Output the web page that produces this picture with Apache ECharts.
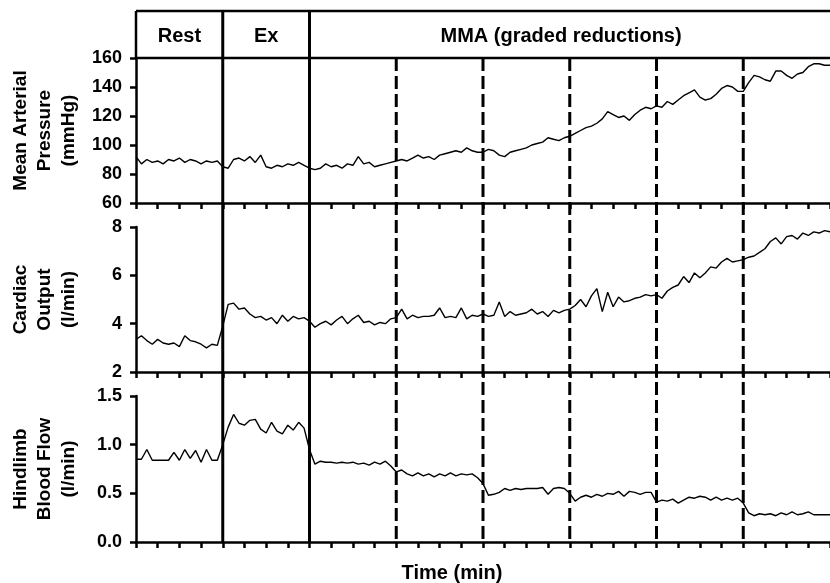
<!DOCTYPE html>
<html>
<head>
<meta charset="utf-8">
<script src="https://cdn.jsdelivr.net/npm/echarts@6/dist/echarts.min.js"></script>
<style>
  html, body { margin: 0; padding: 0; background: #fff; }
  #chart { width: 830px; height: 583px; }
</style>
</head>
<body>
<div id="chart"></div>
<script>
// samples are 0.25 min apart, 16 per 4-min period
var STEP = 0.25;

var pressure = [
  92, 87, 90, 88, 89, 87, 90, 89, 91, 88, 90, 89, 87, 89, 88, 89,
  85, 84, 90, 91, 89, 92, 88, 93, 85, 84, 86, 85, 87, 86, 88, 86,
  84, 83, 84, 87, 85, 86, 84, 87, 86, 92, 87, 88, 85, 86, 87, 88,
  89, 90, 89, 91, 93, 91, 92, 90, 93, 94, 95, 96, 95, 98, 96, 95,
  95, 97, 96, 93, 92, 95, 96, 97, 98, 100, 101, 102, 105, 104, 103, 105,
  106, 108, 110, 112, 113, 115, 118, 123, 121, 119, 120, 117, 121, 124, 126, 125,
  127, 126, 130, 128, 131, 134, 136, 138, 133, 131, 132, 135, 139, 141, 140, 137,
  137, 143, 148, 147, 145, 144, 151, 151, 148, 146, 149, 150, 154, 156, 156, 155,
  155
];

var cardiacOutput = [
  3.35, 3.5, 3.3, 3.15, 3.35, 3.2, 3.15, 3.2, 3.05, 3.5, 3.3, 3.25, 3.15, 3.0, 3.15, 3.1,
  3.9, 4.8, 4.85, 4.6, 4.65, 4.4, 4.25, 4.3, 4.15, 4.25, 4.0, 4.35, 4.1, 4.3, 4.2, 4.25,
  4.1, 3.85, 4.0, 4.1, 3.95, 4.15, 4.3, 4.0, 4.2, 4.35, 4.05, 4.1, 3.95, 4.05, 4.0, 4.2,
  4.25, 4.6, 4.2, 4.35, 4.25, 4.3, 4.3, 4.35, 4.65, 4.25, 4.3, 4.25, 4.65, 4.2, 4.35, 4.3,
  4.4, 4.3, 4.35, 4.9, 4.3, 4.5, 4.35, 4.4, 4.45, 4.6, 4.4, 4.5, 4.3, 4.55, 4.45, 4.55,
  4.6, 4.75, 5.0, 4.7, 5.15, 5.45, 4.5, 5.3, 4.7, 5.1, 4.9, 4.95, 5.05, 5.1, 5.2, 5.15,
  5.2, 5.05, 5.35, 5.5, 5.6, 5.95, 5.7, 6.1, 5.9, 6.1, 6.35, 6.3, 6.55, 6.7, 6.55, 6.6,
  6.65, 6.75, 6.8, 6.95, 7.1, 7.4, 7.55, 7.3, 7.6, 7.65, 7.5, 7.75, 7.65, 7.8, 7.75, 7.85,
  7.8
];

var hindlimbFlow = [
  0.85, 0.85, 0.95, 0.84, 0.84, 0.84, 0.84, 0.92, 0.84, 0.95, 0.86, 0.94, 0.82, 0.95, 0.84, 0.84,
  1.0, 1.18, 1.31, 1.22, 1.2, 1.25, 1.26, 1.16, 1.12, 1.23, 1.14, 1.11, 1.2, 1.15, 1.23, 1.17,
  0.95, 0.8, 0.83, 0.82, 0.82, 0.81, 0.82, 0.81, 0.82, 0.8, 0.81, 0.79, 0.82, 0.8, 0.83, 0.78,
  0.72, 0.74, 0.7, 0.68, 0.71, 0.68, 0.7, 0.67, 0.7, 0.68, 0.71, 0.68, 0.7, 0.69, 0.7, 0.66,
  0.6, 0.48, 0.49, 0.51, 0.55, 0.53, 0.55, 0.54, 0.55, 0.55, 0.55, 0.56, 0.49, 0.55, 0.56, 0.55,
  0.5, 0.42, 0.46, 0.48, 0.46, 0.49, 0.47, 0.5, 0.49, 0.52, 0.47, 0.52, 0.51, 0.49, 0.51, 0.51,
  0.41, 0.43, 0.42, 0.44, 0.4, 0.43, 0.46, 0.45, 0.47, 0.46, 0.43, 0.46, 0.43, 0.45, 0.43, 0.45,
  0.4, 0.3, 0.27, 0.29, 0.28, 0.29, 0.27, 0.3, 0.28, 0.31, 0.28, 0.29, 0.31, 0.28, 0.28, 0.28,
  0.28
];

var phaseLabels = ['Rest', 'Ex', 'MMA (graded reductions)'];
var phaseCentres = [2, 6, 19.6];
var phaseEdges = [4, 8];
var reductionEdges = [12, 16, 20, 24, 28];

var panelTitles = [
  'Mean Arterial\nPressure\n(mmHg)',
  'Cardiac\nOutput\n(l/min)',
  'Hindlimb\nBlood Flow\n(l/min)'
];
var yMin = [60, 2, 0];
var yMax = [160, 8, 1.5];
var yStep = [20, 2, 0.5];

var FONT = '"Liberation Sans", Arial, sans-serif';
var INK = '#000';

function toPoints(values) {
  return values.map(function (v, i) { return [i * STEP, v]; });
}

var grids = [
  { left: 136, right: 0, top: 58, height: 145 },
  { left: 136, right: 0, top: 227, height: 145 },
  { left: 136, right: 0, top: 396, height: 146 }
];

var xAxes = grids.map(function (g, i) {
  return {
    type: 'value', gridIndex: i, min: 0, max: 32, interval: 1,
    axisLine: { show: true, lineStyle: { color: INK, width: 2.5 } },
    axisTick: { show: true, length: 6, lineStyle: { color: INK, width: 2.5 } },
    axisLabel: { show: false },
    splitLine: { show: false }
  };
});

var yAxes = grids.map(function (g, i) {
  return {
    type: 'value', gridIndex: i, min: yMin[i], max: yMax[i], interval: yStep[i],
    axisLine: { show: true, lineStyle: { color: INK, width: 2.5 } },
    axisTick: { show: true, length: 6, lineStyle: { color: INK, width: 2.5 } },
    axisLabel: {
      color: INK, fontFamily: FONT, fontWeight: 'bold', fontSize: 18, margin: 14,
      formatter: function (v) { return i === 2 ? v.toFixed(1) : String(v); }
    },
    splitLine: { show: false }
  };
});

var seriesData = [pressure, cardiacOutput, hindlimbFlow];
var series = seriesData.map(function (vals, i) {
  return {
    type: 'line', xAxisIndex: i, yAxisIndex: i,
    data: toPoints(vals),
    showSymbol: false,
    lineStyle: { color: INK, width: 1.4 },
    z: 3
  };
});

var chart = echarts.init(document.getElementById('chart'));
chart.setOption({
  animation: false,
  backgroundColor: '#fff',
  grid: grids,
  xAxis: xAxes,
  yAxis: yAxes,
  series: series
});

// frame, phase separators and labels placed through the axes
function xPx(t) { return chart.convertToPixel({ xAxisIndex: 0 }, t); }
function yPx(i, v) { return chart.convertToPixel({ yAxisIndex: i }, v); }

var headTop = 11;
var plotTop = yPx(0, yMax[0]);
var plotBottom = yPx(2, yMin[2]);
var left = xPx(0), right = xPx(32);
var elements = [];

function line(x1, y1, x2, y2, w, dash) {
  elements.push({
    type: 'line', z: 10,
    shape: { x1: x1, y1: y1, x2: x2, y2: y2 },
    style: { stroke: INK, lineWidth: w, lineDash: dash || null }
  });
}

line(left, headTop, right + 2, headTop, 2.5);
line(left, plotTop, right + 2, plotTop, 2.5);
line(left, headTop, left, plotTop, 2.5);
phaseEdges.forEach(function (t) { line(xPx(t), headTop, xPx(t), plotBottom, 3); });
reductionEdges.forEach(function (t) { line(xPx(t), plotTop, xPx(t), plotBottom, 3, [13, 5]); });

phaseLabels.forEach(function (lab, i) {
  elements.push({
    type: 'text', z: 10, x: xPx(phaseCentres[i]), y: (headTop + plotTop) / 2 + 2,
    style: { text: lab, fill: INK, fontFamily: FONT, fontWeight: 'bold', fontSize: 20,
             align: 'center', verticalAlign: 'middle' }
  });
});

panelTitles.forEach(function (title, i) {
  var mid = (yPx(i, yMin[i]) + yPx(i, yMax[i])) / 2;
  elements.push({
    type: 'text', z: 10, x: 45, y: mid, rotation: Math.PI / 2,
    style: { text: title, fill: INK, fontFamily: FONT, fontWeight: 'bold', fontSize: 19,
             lineHeight: 24, align: 'center', verticalAlign: 'middle' }
  });
});

elements.push({
  type: 'text', z: 10, x: 452, y: 573,
  style: { text: 'Time (min)', fill: INK, fontFamily: FONT, fontWeight: 'bold', fontSize: 20,
           align: 'center', verticalAlign: 'middle' }
});

chart.setOption({ graphic: { elements: elements } });
</script>
</body>
</html>
